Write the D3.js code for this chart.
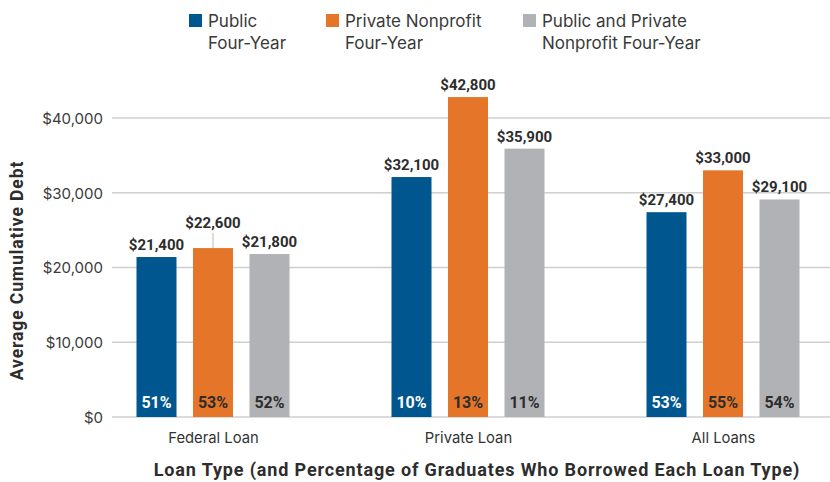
<!DOCTYPE html>
<html>
<head>
<meta charset="utf-8">
<script src="https://cdn.jsdelivr.net/npm/d3@7"></script>
<style>
  body { margin: 0; background: #fff; }
  svg { display: block; font-family: Roboto, "Noto Sans", sans-serif; }
</style>
</head>
<body>
<svg id="chart" width="830" height="482"></svg>
<script>
// ---- Data ----
const categories = ["Federal Loan", "Private Loan", "All Loans"];
const seriesNames = ["Public Four-Year", "Private Nonprofit Four-Year", "Public and Private Nonprofit Four-Year"];
const legendLines = [["Public", "Four-Year"], ["Private Nonprofit", "Four-Year"], ["Public and Private", "Nonprofit Four-Year"]];
const publicDebt = [21400, 32100, 27400];
const privateDebt = [22600, 42800, 33000];
const combinedDebt = [21800, 35900, 29100];
const publicPct = [51, 10, 53];
const privatePct = [53, 13, 55];
const combinedPct = [52, 11, 54];
const yTicks = [0, 10000, 20000, 30000, 40000];
const colors = ["#00568f", "#e57528", "#b1b2b5"];
const pctTextColors = ["#ffffff", "#2d2d2d", "#2d2d2d"];
// label raised with leader line (series index, category index)
const leaderLabels = [[1, 0]];

const values = [publicDebt, privateDebt, combinedDebt];
const pcts = [publicPct, privatePct, combinedPct];

const svg = d3.select("#chart");

const y = d3.scaleLinear().domain([0, 40000]).range([417, 118]);
const x0 = d3.scalePoint().domain(categories).range([213, 723]);
const x1 = d3.scaleBand().domain(d3.range(3)).range([-76.5, 76.5]).paddingInner(0.292).paddingOuter(0);

// gridlines
svg.append("g").selectAll("line").data(yTicks).join("line")
  .attr("x1", 112).attr("x2", 830)
  .attr("y1", d => y(d)).attr("y2", d => y(d))
  .attr("stroke", "#cfcfd1").attr("stroke-width", 1.5);

// y axis labels
const yAxis = d3.axisLeft(y).tickValues(yTicks).tickSize(0).tickPadding(0)
  .tickFormat(d => "$" + d3.format(",")(d));
const ya = svg.append("g").attr("transform", "translate(103,0)").call(yAxis);
ya.select(".domain").remove();
ya.selectAll("text").attr("font-size", 15).attr("fill", "#3a3a3a")
  .attr("font-family", "Inter, sans-serif").attr("dy", "0.35em");

// x axis labels
const xa = svg.append("g").attr("transform", "translate(0,417)")
  .call(d3.axisBottom(x0).tickSize(0).tickPadding(0));
xa.select(".domain").remove();
xa.selectAll("text").attr("font-size", 14.8).attr("fill", "#333")
  .attr("font-family", "Inter, sans-serif").attr("dy", null).attr("y", 26);

// bars
const bars = [];
categories.forEach((c, ci) => {
  values.forEach((arr, si) => {
    bars.push({ c, ci, si, v: arr[ci], p: pcts[si][ci] });
  });
});
const isLeader = d => leaderLabels.some(l => l[0] === d.si && l[1] === d.ci);
const bx = d => x0(d.c) + x1(d.si);
const bw = x1.bandwidth();

svg.append("g").selectAll("rect").data(bars).join("rect")
  .attr("x", bx).attr("width", bw)
  .attr("y", d => y(d.v)).attr("height", d => y(0) - y(d.v))
  .attr("fill", d => colors[d.si]);

// leader lines
svg.append("g").selectAll("line").data(bars.filter(isLeader)).join("line")
  .attr("x1", d => bx(d) + bw / 2).attr("x2", d => bx(d) + bw / 2)
  .attr("y1", d => y(d.v) - 15).attr("y2", d => y(d.v))
  .attr("stroke", "#b8b8b8").attr("stroke-width", 1);

// value labels
svg.append("g").selectAll("text").data(bars).join("text")
  .attr("x", d => bx(d) + bw / 2)
  .attr("y", d => y(d.v) - (isLeader(d) ? 20 : 7))
  .attr("text-anchor", "middle")
  .attr("font-size", 15).attr("font-weight", 700).attr("fill", "#2d2d2d")
  .text(d => "$" + d3.format(",")(d.v));

// percent labels
svg.append("g").selectAll("text").data(bars).join("text")
  .attr("x", d => bx(d) + bw / 2)
  .attr("y", y(0) - 9)
  .attr("text-anchor", "middle")
  .attr("font-size", 16).attr("font-weight", 700)
  .attr("fill", d => pctTextColors[d.si])
  .text(d => d.p + "%");

// y axis title
svg.append("text")
  .attr("transform", `translate(23,${(y(0) + y(40000)) / 2 + 3}) rotate(-90)`)
  .attr("text-anchor", "middle")
  .attr("font-size", 17.5).attr("font-weight", 700).attr("fill", "#2d2d2d")
  .attr("letter-spacing", 0.9)
  .text("Average Cumulative Debt");

// x axis title
svg.append("text")
  .attr("x", 477).attr("y", 476)
  .attr("text-anchor", "middle")
  .attr("font-size", 18).attr("font-weight", 700).attr("fill", "#2d2d2d")
  .attr("letter-spacing", 0.85)
  .text("Loan Type (and Percentage of Graduates Who Borrowed Each Loan Type)");

// legend
const legendX = d3.scaleOrdinal().domain(d3.range(3)).range([189, 326, 523]);
const lg = svg.append("g").selectAll("g").data(seriesNames).join("g")
  .attr("transform", (d, i) => `translate(${legendX(i)},0)`);
lg.append("rect").attr("x", 0).attr("y", 14).attr("width", 13).attr("height", 13)
  .attr("fill", (d, i) => colors[i]);
lg.append("text").attr("x", 19).attr("y", 27)
  .attr("font-size", 17).attr("fill", "#3a3a3a").attr("font-family", "Inter, sans-serif")
  .selectAll("tspan").data((d, i) => legendLines[i]).join("tspan")
  .attr("x", 19).attr("dy", (d, j) => j === 0 ? 0 : 22)
  .text(d => d);
</script>
</body>
</html>
